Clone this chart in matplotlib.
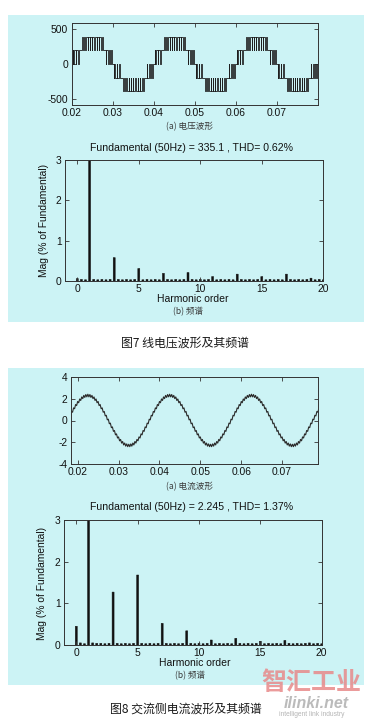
import numpy as np
import matplotlib
matplotlib.use("Agg")
import matplotlib.pyplot as plt
from matplotlib.patches import Rectangle

# ---------------- data ----------------
volt_xticks = [0.02, 0.03, 0.04, 0.05, 0.06, 0.07]
volt_yticks = [-500, 0, 500]
cur_xticks = [0.02, 0.03, 0.04, 0.05, 0.06, 0.07]
cur_yticks = [-4, -2, 0, 2, 4]
harm_xticks = [0, 5, 10, 15, 20]
harm_yticks = [0, 1, 2, 3]

# line voltage: switching instants (ms) within one positive half period and the level after each
volt_half_t_ms = [0.00, 0.22, 0.32, 0.68, 0.94, 1.13, 1.57, 1.75,
                  2.46, 2.68, 2.94, 3.28, 3.44, 3.86, 3.95, 4.43, 4.48, 4.98,
                  5.02, 5.52, 5.57, 6.05, 6.14, 6.56, 6.72, 7.06, 7.32, 7.54,
                  8.25, 8.43, 8.87, 9.06, 9.32, 9.68, 9.78]
volt_half_level = [0, 200, 0, 200, 0, 200, 0, 200,
                   390, 200, 390, 200, 390, 200, 390, 200, 390, 200,
                   390, 200, 390, 200, 390, 200, 390, 200, 390, 200,
                   0, 200, 0, 200, 0, 200, 0]
volt_period_starts = [0.02, 0.04, 0.06]
volt_end = 0.08

# AC-side current: one 20 ms period sampled every 0.25 ms (starting at t = 0.02 s)
cur_step_ms = 0.25
cur_one_period = [1.75, 1.63, 1.98, 1.84, 2.17, 2.01, 2.31, 2.12, 2.39, 2.17,
                  2.42, 2.17, 2.39, 2.12, 2.31, 2.01, 2.17, 1.84, 1.98, 1.63,
                  1.75, 1.37, 1.47, 1.08, 1.16, 0.76, 0.83, 0.42, 0.48, 0.06,
                  0.12, -0.30, -0.24, -0.66, -0.59, -1.00, -0.92, -1.32, -1.23, -1.61,
                  -1.51, -1.87, -1.74, -2.08, -1.93, -2.25, -2.07, -2.36, -2.15, -2.41,
                  -2.18, -2.41, -2.15, -2.36, -2.07, -2.25, -1.93, -2.08, -1.74, -1.87,
                  -1.51, -1.61, -1.23, -1.32, -0.92, -1.00, -0.59, -0.66, -0.24, -0.30,
                  0.12, 0.06, 0.48, 0.42, 0.83, 0.76, 1.16, 1.08, 1.47, 1.37]
cur_period_starts = [0.00, 0.02, 0.04, 0.06]

# FFT spectra, bins every 1/3 harmonic order (0 ... 20), % of fundamental
spec_bins_per_order = 3
volt_spectrum = [0.06, 0.04, 0.03, 100.0, 0.04, 0.03, 0.04, 0.03, 0.04, 0.58,
                 0.04, 0.03, 0.04, 0.03, 0.04, 0.31, 0.03, 0.04, 0.03, 0.04,
                 0.03, 0.19, 0.04, 0.03, 0.04, 0.03, 0.04, 0.21, 0.04, 0.03,
                 0.04, 0.03, 0.04, 0.11, 0.03, 0.04, 0.03, 0.04, 0.03, 0.17,
                 0.04, 0.03, 0.04, 0.03, 0.04, 0.11, 0.03, 0.04, 0.03, 0.04,
                 0.03, 0.17, 0.04, 0.03, 0.04, 0.03, 0.04, 0.07, 0.03, 0.04,
                 0.03]
cur_spectrum = [0.45, 0.05, 0.03, 100.0, 0.05, 0.04, 0.04, 0.03, 0.04, 1.27,
                0.04, 0.03, 0.04, 0.03, 0.04, 1.68, 0.04, 0.03, 0.04, 0.03,
                0.04, 0.52, 0.04, 0.03, 0.04, 0.03, 0.04, 0.34, 0.04, 0.03,
                0.04, 0.03, 0.04, 0.12, 0.03, 0.04, 0.03, 0.04, 0.03, 0.16,
                0.04, 0.03, 0.04, 0.03, 0.04, 0.09, 0.03, 0.04, 0.03, 0.04,
                0.03, 0.11, 0.04, 0.03, 0.04, 0.03, 0.04, 0.05, 0.03, 0.04,
                0.03]

title_volt = "Fundamental (50Hz) = 335.1 , THD= 0.62%"
title_cur = "Fundamental (50Hz) = 2.245 , THD= 1.37%"

# ---------------- figure ----------------
W, H = 370, 726
fig = plt.figure(figsize=(W / 100, H / 100), dpi=100)
fig.patch.set_facecolor("white")

PANEL = "#CCF3F5"
INK = "#111111"
LATIN = ["Liberation Sans", "DejaVu Sans"]
CJK = ["Noto Sans CJK SC", "DejaVu Sans"]


def frect(l, t, r, b):
    return [l / W, 1 - b / H, (r - l) / W, (b - t) / H]


def ftext(x, y, s, **kw):
    fig.text(x / W, 1 - y / H, s, ha=kw.pop("ha", "center"), va=kw.pop("va", "center"),
             zorder=5, **kw)


for (l, t, r, b) in [(8, 15, 364, 322), (8, 368, 364, 685)]:
    fig.patches.append(Rectangle((l / W, 1 - b / H), (r - l) / W, (b - t) / H,
                                 transform=fig.transFigure, facecolor=PANEL,
                                 edgecolor="none", zorder=-5))


def style(ax):
    ax.set_zorder(2)
    ax.set_facecolor("none")
    for s in ax.spines.values():
        s.set_linewidth(0.7)
        s.set_color("#333333")
    ax.tick_params(direction="in", length=3, width=0.6, top=True, right=True,
                   labelsize=7.4, pad=2.5, colors="#333333", labelcolor=INK)
    for lab in ax.get_xticklabels() + ax.get_yticklabels():
        lab.set_fontfamily(LATIN)


# ---- voltage waveform ----
ax1 = fig.add_axes(frect(71.7, 23, 317.7, 105))
vt, vv = [], []
for p in volt_period_starts:
    for tm, lv in zip(volt_half_t_ms, volt_half_level):
        vt.append(p + tm / 1000.0)
        vv.append(lv)
    for tm, lv in zip(volt_half_t_ms, volt_half_level):
        vt.append(p + 0.01 + tm / 1000.0)
        vv.append(-lv)
vt.append(volt_end)
vv.append(vv[-1])
ax1.plot(vt, vv, drawstyle="steps-post", color="#1e1e1e", lw=0.6)
ax1.set_xlim(0.02, 0.08)
ax1.set_ylim(-590, 590)
ax1.set_xticks(volt_xticks)
ax1.set_xticklabels([f"{v:.2f}" for v in volt_xticks])
ax1.set_yticks(volt_yticks)
ax1.set_yticklabels([str(v) for v in volt_yticks])
style(ax1)

# ---- current waveform ----
ax3 = fig.add_axes(frect(70.7, 377, 317.7, 464))
ct, cv = [], []
for p in cur_period_starts:
    for k, val in enumerate(cur_one_period):
        ct.append(p + k * cur_step_ms / 1000.0)
        cv.append(val)
ct.append(0.08)
cv.append(cur_one_period[0])
ax3.plot(ct, cv, color="#2a2a2a", lw=0.8)
ax3.set_xlim(0.0183, 0.0787)
ax3.set_ylim(-4, 4)
ax3.set_xticks(cur_xticks)
ax3.set_xticklabels([f"{v:.2f}" for v in cur_xticks])
ax3.set_yticks(cur_yticks)
ax3.set_yticklabels([str(v) for v in cur_yticks])
style(ax3)


# ---- spectra ----
def spectrum(ax, vals):
    orders = np.arange(len(vals)) / spec_bins_per_order
    bars = ax.bar(orders, vals, width=0.16, color="#111111", edgecolor="#111111",
                  linewidth=0.35)
    for b in bars:
        b.set_snap(False)
    ax.set_xlim(-1, 20)
    ax.set_ylim(0, 3)
    ax.set_xticks(harm_xticks)
    ax.set_xticklabels([str(v) for v in harm_xticks])
    ax.set_yticks(harm_yticks)
    ax.set_yticklabels([str(v) for v in harm_yticks])
    style(ax)


ax2 = fig.add_axes(frect(65, 160, 323.3, 281))
spectrum(ax2, volt_spectrum)
ax4 = fig.add_axes(frect(64, 520, 321.7, 645))
spectrum(ax4, cur_spectrum)

# ---- texts ----
SUB = "#3a3a3a"
ftext(190, 127, "(a) 电压波形", fontsize=6.2, color=SUB, family=CJK)
ftext(192, 148, title_volt, fontsize=7.6, color=INK, family=LATIN)
ftext(44, 220, "Mag (% of Fundamental)", fontsize=7.4, rotation=90, color=INK, family=LATIN)
ftext(193, 299, "Harmonic order", fontsize=7.5, color=INK, family=LATIN)
ftext(188, 312, "(b) 频谱", fontsize=6.2, color=SUB, family=CJK)
ftext(185, 343, "图7 线电压波形及其频谱", fontsize=8.6, color="#1a1a1a", family=CJK)

ftext(190, 487, "(a) 电流波形", fontsize=6.2, color=SUB, family=CJK)
ftext(192, 507, title_cur, fontsize=7.6, color=INK, family=LATIN)
ftext(42, 583, "Mag (% of Fundamental)", fontsize=7.4, rotation=90, color=INK, family=LATIN)
ftext(195, 663, "Harmonic order", fontsize=7.5, color=INK, family=LATIN)
ftext(190, 676, "(b) 频谱", fontsize=6.2, color=SUB, family=CJK)
ftext(186, 709, "图8 交流侧电流波形及其频谱", fontsize=8.6, color="#1a1a1a", family=CJK)

# watermark
ftext(311, 683, "智汇工业", fontsize=18, color="#E88A8A", alpha=0.85, family=CJK, weight="bold")
ftext(316, 703, "ilinki.net", fontsize=11.5, color="#BBBBBB", style="italic", weight="bold", family=LATIN)
ftext(312, 714, "intelligent link industry", fontsize=4.8, color="#B5B5B5", family=LATIN)

fig.savefig("out.png", dpi=100)
